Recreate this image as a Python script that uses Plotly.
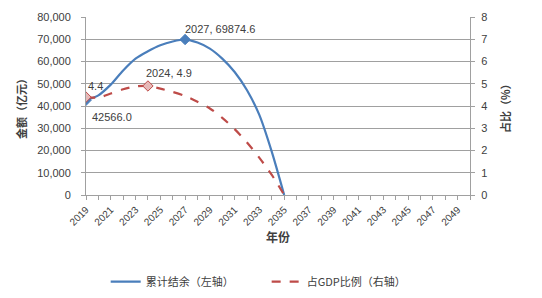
import plotly.graph_objects as go

years = list(range(2019, 2036))
balance = [42566.0, 44800, 49600, 56000, 61300, 64600, 67300, 69000, 69874.6,
           68500, 65800, 61300, 55300, 47100, 35900, 19400, 0]
ratio = [4.4, 4.38, 4.56, 4.75, 4.88, 4.9, 4.78, 4.63, 4.45, 4.19, 3.89, 3.47,
         2.96, 2.36, 1.67, 0.9, 0]
all_years = list(range(2019, 2051))
tick_years = list(range(2019, 2050, 2))
left_ticks = list(range(0, 80001, 10000))
right_ticks = list(range(0, 9))

BLUE = "#4A7EBB"
RED = "#BE4B48"
GRID = "#A0A0A0"
TXT = "#404040"
FONT = "Liberation Sans, Arial, sans-serif"
CJK = "Noto Sans CJK SC"

fig = go.Figure()
fig.add_trace(go.Scatter(x=years, y=balance, mode="lines", line=dict(color=BLUE, width=2.2, shape="spline", smoothing=0.8),
                         name="累计结余（左轴）", yaxis="y", legend="legend"))
fig.add_trace(go.Scatter(x=years, y=ratio, mode="lines", line=dict(color=RED, width=2.2, dash="dash", shape="spline", smoothing=0.8),
                         name="占GDP比例（右轴）", yaxis="y2", legend="legend2"))

i0 = 0
ipk = balance.index(max(balance))
jpk = ratio.index(max(ratio))
fig.add_trace(go.Scatter(x=[years[i0], years[ipk]], y=[balance[i0], balance[ipk]], mode="markers",
                         marker=dict(symbol="diamond", size=8, color=BLUE, line=dict(color=BLUE, width=1)),
                         showlegend=False, yaxis="y"))
fig.add_trace(go.Scatter(x=[years[i0], years[jpk]], y=[ratio[i0], ratio[jpk]], mode="markers",
                         marker=dict(symbol="diamond", size=8, color="#E6B9B8", line=dict(color=RED, width=1)),
                         showlegend=False, yaxis="y2"))

ann_font = dict(family=FONT, size=11, color=TXT)
annotations = [
    dict(x=years[i0], y=balance[i0], xref="x", yref="y", text=f"{balance[i0]:.1f}", showarrow=False,
         xanchor="left", yanchor="top", xshift=4, yshift=-9, font=ann_font),
    dict(x=years[i0], y=ratio[i0], xref="x", yref="y2", text=f"{ratio[i0]}", showarrow=False,
         xanchor="left", yanchor="bottom", xshift=0, yshift=3, font=ann_font),
    dict(x=years[jpk], y=ratio[jpk], xref="x", yref="y2", text=f"{years[jpk]}, {ratio[jpk]}", showarrow=False,
         xanchor="left", yanchor="bottom", xshift=-4, yshift=5, font=ann_font),
    dict(x=years[ipk], y=balance[ipk], xref="x", yref="y", text=f"{years[ipk]}, {balance[ipk]}", showarrow=False,
         xanchor="left", yanchor="bottom", xshift=-2, yshift=3, font=ann_font),
    dict(x=1, xref="paper", xshift=35, y=0.5, yref="paper", text="<b>占比（%）</b>", textangle=-90,
         showarrow=False, xanchor="center", yanchor="middle", font=dict(family=CJK, size=11, color=TXT)),
]

leg_common = dict(orientation="h", yref="container", y=0.055, yanchor="middle", xanchor="left",
                  font=dict(family=CJK, size=11, color=TXT), itemwidth=30, bgcolor="rgba(0,0,0,0)")

fig.update_layout(
    width=542, height=298,
    margin=dict(l=86, r=72, t=17, b=103, autoexpand=False),
    paper_bgcolor="white", plot_bgcolor="white",
    font=dict(family=FONT, size=11, color=TXT),
    showlegend=True,
    legend=dict(xref="container", x=0.195, **leg_common),
    legend2=dict(xref="container", x=0.492, **leg_common),
    annotations=annotations,
    xaxis=dict(range=[2019, 2050], tickvals=tick_years, ticktext=[str(t) for t in tick_years],
               tickangle=-45, showgrid=False, showline=True, linecolor=GRID, linewidth=1,
               ticks="outside", ticklen=4, tickcolor=GRID, automargin=False,
               minor=dict(tickvals=all_years, ticks="outside", ticklen=4, tickcolor=GRID),
               tickfont=dict(size=10, color=TXT),
               title=dict(text="<b>年份</b>", font=dict(family=CJK, size=12, color=TXT), standoff=6),
               zeroline=False),
    yaxis=dict(range=[0, 80000], tickvals=left_ticks, tickformat=",d", showgrid=True, gridcolor=GRID, gridwidth=1,
               showline=True, linecolor=GRID, ticks="outside", ticklen=4, tickcolor=GRID, zeroline=False,
               tickfont=dict(size=11, color=TXT), automargin=False, ticklabelstandoff=8,
               title=dict(text="<b>金额（亿元）</b>", font=dict(family=CJK, size=11, color=TXT), standoff=8)),
    yaxis2=dict(range=[0, 8], tickvals=right_ticks, overlaying="y", side="right", showgrid=False,
                showline=True, linecolor=GRID, ticks="outside", ticklen=4, tickcolor=GRID, zeroline=False,
                tickfont=dict(size=11, color=TXT), automargin=False, ticklabelstandoff=4),
)

fig.write_html("out.html")
